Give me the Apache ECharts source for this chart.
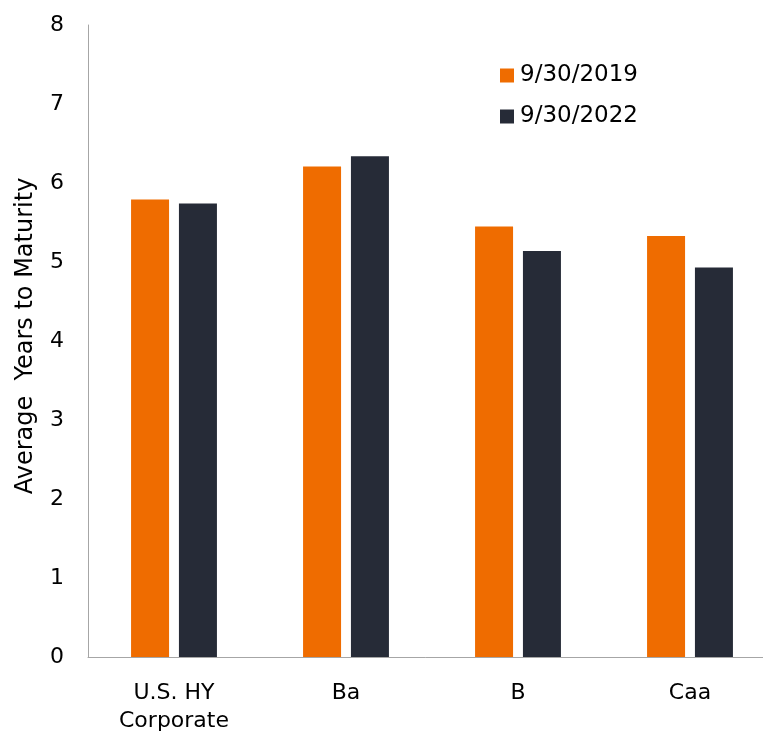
<!DOCTYPE html>
<html><head><meta charset="utf-8">
<script src="https://cdn.jsdelivr.net/npm/echarts@6/dist/echarts.min.js"></script>
<style>html,body{margin:0;padding:0;background:#fff}#c{width:763px;height:732px}</style>
</head><body><div id="c"></div>
<script>
const categories = ['U.S. HY\nCorporate', 'Ba', 'B', 'Caa'];
const series2019 = [5.79, 6.21, 5.45, 5.33];
const series2022 = [5.74, 6.34, 5.14, 4.93];
const seriesNames = ['9/30/2019', '9/30/2022'];
const yTicks = [0, 8, 1];
const yTitle = 'Average  Years to Maturity';

const font = 'DejaVu Sans, Liberation Sans, Arial, sans-serif';
const chart = echarts.init(document.getElementById('c'), null, {renderer: 'canvas'});
chart.setOption({
  animation: false,
  backgroundColor: '#fff',
  textStyle: {fontFamily: font},
  grid: {left: 88, top: 25, width: 688, height: 632, containLabel: false, outerBoundsMode: 'none'},
  legend: {
    orient: 'vertical', left: 495, top: 59,
    itemWidth: 14, itemHeight: 14, itemGap: 18,
    icon: 'rect',
    textStyle: {fontFamily: font, fontSize: 23, color: '#000', padding: [0, 0, 0, 1]},
    data: seriesNames
  },
  xAxis: {
    type: 'category', data: categories,
    axisLine: {lineStyle: {color: '#A6A6A6', width: 1}},
    axisTick: {show: false},
    axisLabel: {color: '#000', fontSize: 22, fontFamily: font, margin: 22, lineHeight: 28, interval: 0}
  },
  yAxis: {
    type: 'value', min: yTicks[0], max: yTicks[1], interval: yTicks[2],
    name: yTitle, nameLocation: 'middle', nameGap: 50,
    nameTextStyle: {color: '#000', fontSize: 24, fontFamily: font, padding: [0, 0, 0, 10]},
    axisLine: {show: true, lineStyle: {color: '#A6A6A6', width: 1}},
    axisTick: {show: false},
    splitLine: {show: false},
    axisLabel: {color: '#000', fontSize: 22, fontFamily: font, margin: 24}
  },
  series: [
    {name: seriesNames[0], type: 'bar', data: series2019, barWidth: 38, barGap: '26%',
     itemStyle: {color: '#EF6C00'}},
    {name: seriesNames[1], type: 'bar', data: series2022, barWidth: 38,
     itemStyle: {color: '#262B37'}}
  ]
});
</script></body></html>
